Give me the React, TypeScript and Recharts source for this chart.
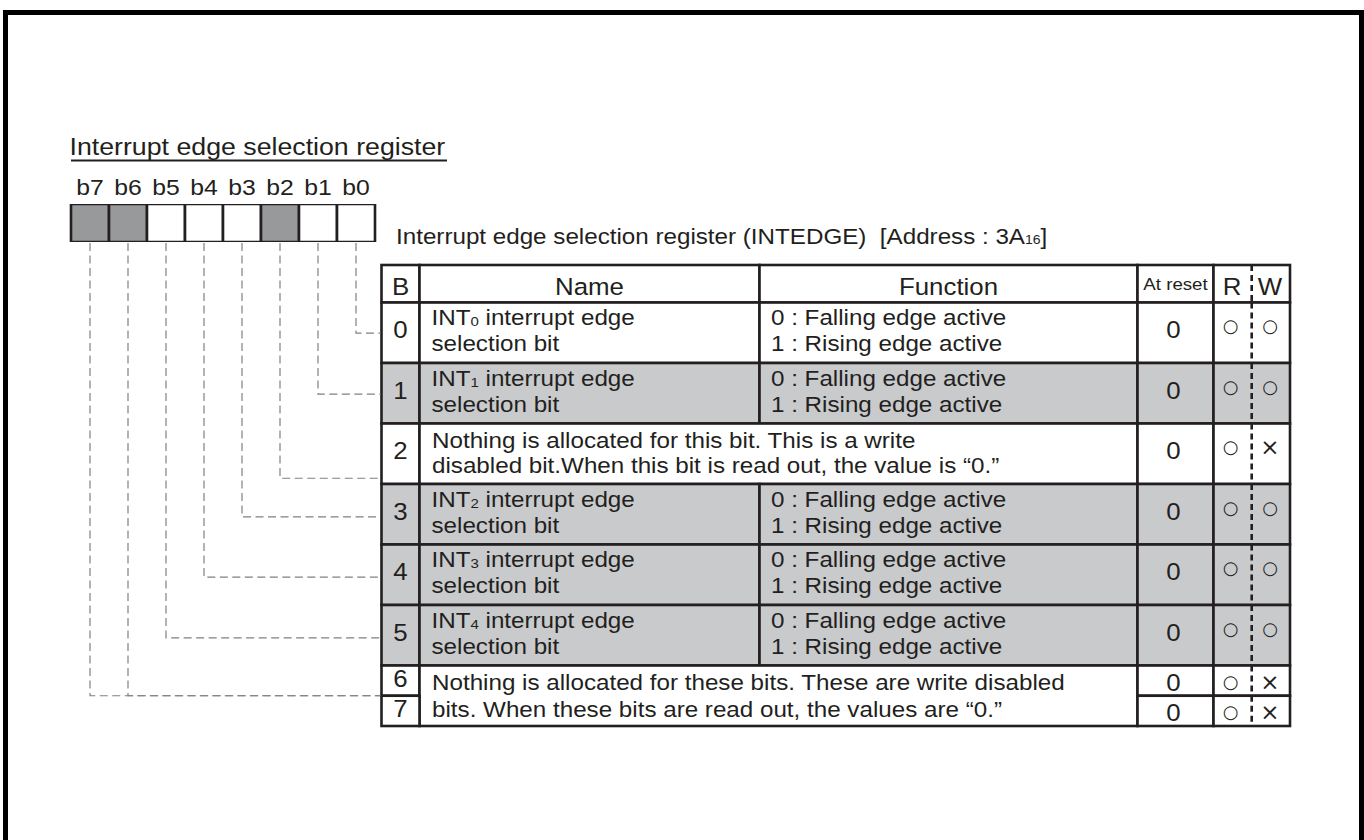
import React from 'react';
import {
  ComposedChart,
  XAxis,
  YAxis,
  Bar,
  Cell,
  LabelList,
  ReferenceArea,
  ReferenceLine,
} from 'recharts';

// ---- data ----
const bitLabels = ['b7', 'b6', 'b5', 'b4', 'b3', 'b2', 'b1', 'b0'];
const bitAllocated = [false, false, true, true, true, false, true, true];

const titleText = 'Interrupt edge selection register';
const captionText = 'Interrupt edge selection register (INTEDGE)  [Address : 3A_{16}]';
const headerLabels = ['B', 'Name', 'Function', 'At reset', 'R', 'W'];

const rowBits = ['0', '1', '2', '3', '4', '5', '6', '7'];
const rowNames: (string[] | null)[] = [
  ['INT_{0} interrupt edge', 'selection bit'],
  ['INT_{1} interrupt edge', 'selection bit'],
  null,
  ['INT_{2} interrupt edge', 'selection bit'],
  ['INT_{3} interrupt edge', 'selection bit'],
  ['INT_{4} interrupt edge', 'selection bit'],
  null,
  null,
];
const rowFunctions: (string[] | null)[] = [
  ['0 : Falling edge active', '1 : Rising edge active'],
  ['0 : Falling edge active', '1 : Rising edge active'],
  null,
  ['0 : Falling edge active', '1 : Rising edge active'],
  ['0 : Falling edge active', '1 : Rising edge active'],
  ['0 : Falling edge active', '1 : Rising edge active'],
  null,
  null,
];
const noteRows = [[2], [6, 7]];
const noteLines = [
  ['Nothing is allocated for this bit. This is a write', 'disabled bit.When this bit is read out, the value is \u201C0.\u201D'],
  ['Nothing is allocated for these bits. These are write disabled', 'bits. When these bits are read out, the values are \u201C0.\u201D'],
];
const rowReset = ['0', '0', '0', '0', '0', '0', '0', '0'];
const rowRead = ['\u25CB', '\u25CB', '\u25CB', '\u25CB', '\u25CB', '\u25CB', '\u25CB', '\u25CB'];
const rowWrite = ['\u25CB', '\u25CB', '\u00D7', '\u25CB', '\u25CB', '\u25CB', '\u00D7', '\u00D7'];
const rowShaded = [false, true, false, true, true, true, false, false];

// ---- layout ----
const W = 1364;
const H = 840;
const INK = '#231f20';
const REG_GRAY = '#98999b';
const ROW_GRAY = '#c9cacc';
const FONT = "'Liberation Sans', Arial, Helvetica, sans-serif";
const SYM_FONT = "'DejaVu Sans', sans-serif";
const STRETCH = 1.1;
const COL = [381.5, 419.5, 759.5, 1137.5, 1213.5, 1290];
const RW_SPLIT = 1251.7;
const R_X = 1230.5;
const W_X = 1270;
const HEAD = [265, 302.5];
const ROW_UNITS = [2, 2, 2, 2, 2, 2, 1, 1];
const UNIT = 30.25;
const JOIN_AT = [0.505, 0.515, 0.905, 0.545, 0.54, 0.543, 1, 0];
const REG = { left: 71, right: 375, top: 204, bottom: 242 };
const NOTE_BASE = [[24.7, 25], [24, 27.5]];
const BODY = 22;
const HEADSZ = 23.5;
const DIGIT = 23.5;
const LINE_W = 2.6;

const rowTop: number[] = [];
ROW_UNITS.reduce((acc, u, i) => {
  rowTop[i] = acc;
  return acc + u * UNIT;
}, HEAD[1]);
const rowBottom = rowTop.map((t, i) => t + ROW_UNITS[i] * UNIT);

function parseSub(text: string) {
  const out: { t: string; sub: boolean }[] = [];
  const re = /_\{([^}]*)\}/g;
  let last = 0;
  let m: RegExpExecArray | null;
  while ((m = re.exec(text))) {
    if (m.index > last) out.push({ t: text.slice(last, m.index), sub: false });
    out.push({ t: m[1], sub: true });
    last = m.index + m[0].length;
  }
  if (last < text.length) out.push({ t: text.slice(last), sub: false });
  return out;
}

function SText({ x, y, size, text, anchor = 'start', subScale = 0.62, subDy = 1 }: any) {
  const parts = parseSub(text);
  let shifted = false;
  return (
    <text
      transform={`translate(${x} ${y}) scale(${STRETCH} 1)`}
      fontSize={size}
      fontFamily={FONT}
      fill={INK}
      textAnchor={anchor}
      xmlSpace="preserve"
    >
      {parts.map((p, i) => {
        let dy = 0;
        if (p.sub && !shifted) {
          dy = subDy;
          shifted = true;
        } else if (!p.sub && shifted) {
          dy = -subDy;
          shifted = false;
        }
        return (
          <tspan key={i} dy={dy || undefined} fontSize={p.sub ? size * subScale : undefined}>
            {p.t}
          </tspan>
        );
      })}
    </text>
  );
}

const BitLabel = (props: any) => {
  const vb = props.viewBox ?? props;
  const top = Math.min(vb.y, vb.y + vb.height);
  return <SText x={vb.x + vb.width / 2} y={top - 9} size={22.5} text={String(props.value)} anchor="middle" />;
};

type Spec = {
  key: string;
  x1: number;
  x2: number;
  y1: number;
  y2: number;
  fill: string;
  draw: (x: number, y: number, w: number, h: number) => React.ReactNode;
};

const symbol = (x: number, y: number, s: string) => (
  <text
    x={x}
    y={y}
    fontSize={s === '\u00D7' ? 23 : 18}
    fontFamily={SYM_FONT}
    fill={INK}
    textAnchor="middle"
    dominantBaseline="central"
  >
    {s}
  </text>
);

const rwDraw = (content: (sx: (v: number) => number, x: number, y: number, w: number, h: number) => React.ReactNode) =>
  (x: number, y: number, w: number, h: number) => {
    const sx = (v: number) => x + ((v - COL[4]) / (COL[5] - COL[4])) * w;
    return (
      <g>
        <line x1={sx(RW_SPLIT)} x2={sx(RW_SPLIT)} y1={y} y2={y + h} stroke={INK} strokeWidth={2.6} strokeDasharray="6 4" />
        {content(sx, x, y, w, h)}
      </g>
    );
  };

function buildSpecs(): Spec[] {
  const specs: Spec[] = [];
  const [hy1, hy2] = HEAD;
  const centerHead = (label: string, size = HEADSZ, base = 30) => (x: number, y: number, w: number) => (
    <SText x={x + w / 2} y={y + base} size={size} text={label} anchor="middle" />
  );
  specs.push({ key: 'h0', x1: COL[0], x2: COL[1], y1: hy1, y2: hy2, fill: '#fff', draw: centerHead(headerLabels[0]) });
  specs.push({ key: 'h1', x1: COL[1], x2: COL[2], y1: hy1, y2: hy2, fill: '#fff', draw: centerHead(headerLabels[1]) });
  specs.push({ key: 'h2', x1: COL[2], x2: COL[3], y1: hy1, y2: hy2, fill: '#fff', draw: centerHead(headerLabels[2]) });
  specs.push({ key: 'h3', x1: COL[3], x2: COL[4], y1: hy1, y2: hy2, fill: '#fff', draw: centerHead(headerLabels[3], 17, 25) });
  specs.push({
    key: 'h4', x1: COL[4], x2: COL[5], y1: hy1, y2: hy2, fill: '#fff',
    draw: rwDraw((sx, x, y) => (
      <g>
        <SText x={sx(R_X) + 1.5} y={y + 30} size={HEADSZ} text={headerLabels[4]} anchor="middle" />
        <SText x={sx(W_X)} y={y + 30} size={HEADSZ} text={headerLabels[5]} anchor="middle" />
      </g>
    )),
  });

  rowBits.forEach((bit, i) => {
    const fill = rowShaded[i] ? ROW_GRAY : '#fff';
    const y1 = rowTop[i];
    const y2 = rowBottom[i];
    const full = ROW_UNITS[i] === 2;
    const digitDy = full ? 5.5 : 6.5;
    const resetDy = full ? 5.5 : 10;
    const symDy = full ? -7 : 1;
    specs.push({
      key: `b${i}`, x1: COL[0], x2: COL[1], y1, y2, fill,
      draw: (x, y, w, h) => <SText x={x + w / 2} y={y + h / 2 + digitDy} size={DIGIT} text={bit} anchor="middle" />,
    });
    const nm = rowNames[i];
    if (nm) {
      specs.push({
        key: `n${i}`, x1: COL[1], x2: COL[2], y1, y2, fill,
        draw: (x, y) => <g>{nm.map((t, k) => <SText key={k} x={x + 12} y={y + 22.5 + k * 26.3} size={BODY} text={t} />)}</g>,
      });
    }
    const fn = rowFunctions[i];
    if (fn) {
      specs.push({
        key: `f${i}`, x1: COL[2], x2: COL[3], y1, y2, fill,
        draw: (x, y) => <g>{fn.map((t, k) => <SText key={k} x={x + 11.5} y={y + 22.5 + k * 26.3} size={BODY} text={t} />)}</g>,
      });
    }
    noteRows.forEach((rows, n) => {
      if (rows[0] !== i) return;
      const last = rows[rows.length - 1];
      const [b0, gap] = NOTE_BASE[n];
      specs.push({
        key: `note${n}`, x1: COL[1], x2: COL[3], y1, y2: rowBottom[last], fill,
        draw: (x, y) => <g>{noteLines[n].map((t, k) => <SText key={k} x={x + 12.5} y={y + b0 + k * gap} size={BODY} text={t} />)}</g>,
      });
    });
    specs.push({
      key: `r${i}`, x1: COL[3], x2: COL[4], y1, y2, fill,
      draw: (x, y, w, h) => <SText x={x + w / 2 - 2} y={y + h / 2 + resetDy} size={DIGIT} text={rowReset[i]} anchor="middle" />,
    });
    specs.push({
      key: `rw${i}`, x1: COL[4], x2: COL[5], y1, y2, fill,
      draw: rwDraw((sx, x, y, w, h) => (
        <g>
          {symbol(sx(R_X), y + h / 2 + symDy, rowRead[i])}
          {symbol(sx(W_X), y + h / 2 + symDy, rowWrite[i])}
        </g>
      )),
    });
  });
  return specs;
}

const CellShape = ({ x, y, width, height, spec }: any) => (
  <g>
    <rect x={x} y={y} width={width} height={height} fill={spec.fill} stroke={INK} strokeWidth={LINE_W} />
    {spec.draw(x, y, width, height)}
  </g>
);

export default function App() {
  const bitData = bitLabels.map((bit, i) => ({ bit, value: 1, allocated: bitAllocated[i] }));
  const specs = buildSpecs();
  const connectors = bitLabels.map((bit) => {
    const k = Number(bit.slice(1));
    const joinY = rowTop[k] + (rowBottom[k] - rowTop[k]) * JOIN_AT[k];
    return { bit, joinY };
  });

  return (
    <div style={{ position: 'absolute', left: 0, top: 0, width: W, height: H, overflow: 'hidden', background: '#fff' }}>
      <div
        style={{
          position: 'absolute',
          left: 3,
          top: 10,
          width: W - 3,
          height: H + 40,
          border: '5px solid #000',
          boxSizing: 'border-box',
        }}
      />
      <ComposedChart
        width={W}
        height={H}
        data={bitData}
        margin={{ top: 0, right: 0, bottom: 0, left: 0 }}
        barCategoryGap={0}
        style={{ position: 'absolute', left: 0, top: 0 }}
      >
        <XAxis xAxisId="px" type="number" dataKey="px" domain={[0, W]} allowDataOverflow hide />
        <YAxis yAxisId="px" type="number" dataKey="py" domain={[0, H]} allowDataOverflow reversed hide />
        <XAxis
          xAxisId="bit"
          type="category"
          dataKey="bit"
          padding={{ left: REG.left, right: W - REG.right }}
          hide
        />
        <YAxis
          yAxisId="reg"
          type="number"
          domain={[0, 1]}
          allowDataOverflow
          padding={{ top: REG.top, bottom: H - REG.bottom }}
          hide
        />
        {specs.map((c) => (
          <ReferenceArea
            key={c.key}
            xAxisId="px"
            yAxisId="px"
            x1={c.x1}
            x2={c.x2}
            y1={c.y1}
            y2={c.y2}
            ifOverflow="visible"
            shape={(p: any) => <CellShape {...p} spec={c} />}
          />
        ))}
        {connectors.map((c) => (
          <ReferenceLine
            key={c.bit}
            xAxisId="bit"
            yAxisId="px"
            ifOverflow="visible"
            segment={[
              { x: c.bit, y: REG.bottom + 1 },
              { x: c.bit, y: c.joinY },
            ]}
            shape={(p: any) => (
              <path
                d={`M${p.x1},${p.y1}V${p.y2}H${COL[0] - 1}`}
                fill="none"
                stroke="#808080"
                strokeWidth={1.2}
                strokeDasharray="8 4.5"
              />
            )}
          />
        ))}
        <Bar xAxisId="bit" yAxisId="reg" dataKey="value" isAnimationActive={false} stroke={INK} strokeWidth={LINE_W}>
          {bitData.map((d) => (
            <Cell key={d.bit} fill={d.allocated ? '#fff' : REG_GRAY} />
          ))}
          <LabelList dataKey="bit" content={<BitLabel />} />
        </Bar>
      </ComposedChart>
      <svg width={W} height={H} style={{ position: 'absolute', left: 0, top: 0, pointerEvents: 'none' }}>
        <SText x={69.5} y={155} size={24.3} text={titleText} />
        <line x1={71} x2={447} y1={160.5} y2={160.5} stroke={INK} strokeWidth={1.8} />
        <SText x={396} y={244} size={22} text={captionText} subScale={0.58} subDy={0} />
      </svg>
    </div>
  );
}
